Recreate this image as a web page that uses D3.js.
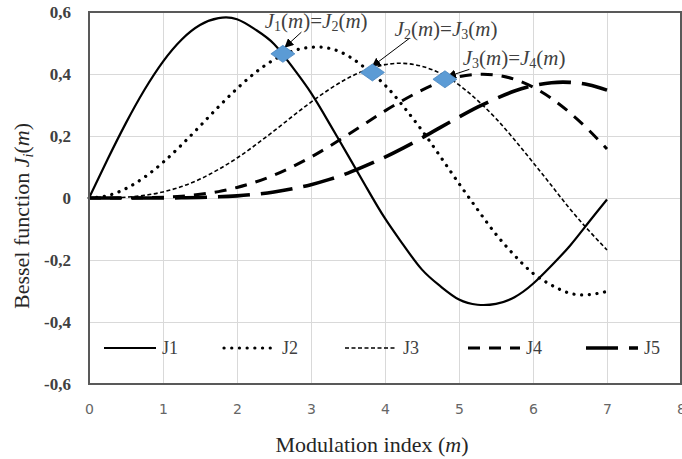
<!DOCTYPE html>
<html>
<head>
<meta charset="utf-8">
<script src="https://cdn.jsdelivr.net/npm/d3@7"></script>
<style>
  body { margin: 0; background: #fff; }
  svg { display: block; }
</style>
</head>
<body>
<svg width="682" height="459"></svg>
<script>
// modulation index samples and Bessel values
var mValues = [0, 0.25, 0.5, 0.75, 1, 1.25, 1.5, 1.75, 2, 2.25, 2.5, 2.75, 3, 3.25, 3.5,
  3.75, 4, 4.25, 4.5, 4.75, 5, 5.25, 5.5, 5.75, 6, 6.25, 6.5, 6.75, 7];
var j1 = [0, 0.124, 0.2423, 0.3492, 0.4401, 0.5106, 0.5579, 0.5802, 0.5767, 0.5432, 0.4971, 0.422, 0.3391, 0.240, 0.1374,
  0.034, -0.066, -0.152, -0.2311, -0.285, -0.3276, -0.3443, -0.3414, -0.320, -0.2767, -0.218, -0.1538, -0.079, -0.0047];
var j2 = [0, 0.0078, 0.0306, 0.0671, 0.1149, 0.1711, 0.2321, 0.294, 0.3528, 0.4047, 0.4461, 0.4739, 0.4861, 0.4826, 0.4586,
  0.416, 0.3641, 0.295, 0.2178, 0.133, 0.0466, -0.037, -0.1173, -0.185, -0.2429, -0.281, -0.3074, -0.312, -0.3014];
var j3 = [0, 0.0003, 0.0026, 0.0085, 0.0196, 0.0369, 0.061, 0.0922, 0.1289, 0.1711, 0.2166, 0.2634, 0.3091, 0.351, 0.3868,
  0.4135, 0.4302, 0.4344, 0.4247, 0.402, 0.3648, 0.315, 0.2561, 0.188, 0.1148, 0.040, -0.0353, -0.104, -0.1676];
var j4 = [0, 0, 0.0002, 0.0007, 0.0025, 0.0059, 0.0118, 0.0206, 0.034, 0.0515, 0.0738, 0.101, 0.132, 0.167, 0.2044,
  0.243, 0.2811, 0.316, 0.3479, 0.374, 0.3912, 0.399, 0.3967, 0.383, 0.3576, 0.321, 0.2748, 0.220, 0.1578];
var j5 = [0, 0, 0, 0, 0.0002, 0.0007, 0.0018, 0.0038, 0.007, 0.012, 0.0195, 0.030, 0.043, 0.060, 0.0804,
  0.105, 0.1321, 0.162, 0.194, 0.228, 0.2611, 0.293, 0.3209, 0.345, 0.3621, 0.372, 0.3731, 0.365, 0.3479];
var seriesNames = ["J1", "J2", "J3", "J4", "J5"];
var seriesValues = [j1, j2, j3, j4, j5];

var xTicks = [0, 1, 2, 3, 4, 5, 6, 7, 8];
var yTicks = [-0.6, -0.4, -0.2, 0, 0.2, 0.4, 0.6];

// crossing points (diamonds)
var crossM = [2.62, 3.83, 4.81];
var crossJ = [0.465, 0.405, 0.383];
// annotation labels: [first index, second index]
var crossLabels = [[1, 2], [2, 3], [3, 4]];

var svg = d3.select("svg");
var margin = {top: 12, right: 1, bottom: 75, left: 89};
var width = 682 - margin.left - margin.right,
    height = 459 - margin.top - margin.bottom;

var x = d3.scaleLinear().domain([0, 8]).range([margin.left, margin.left + width]);
var y = d3.scaleLinear().domain([-0.6, 0.6]).range([margin.top + height, margin.top]);

var serif = "'Liberation Serif', 'Times New Roman', serif";

// gridlines
svg.append("g")
  .attr("transform", "translate(0," + (margin.top + height) + ")")
  .call(d3.axisBottom(x).tickValues(xTicks).tickSize(-height).tickFormat(""))
  .call(function(g) { g.select(".domain").remove(); })
  .selectAll("line").attr("stroke", "#d9d9d9");
svg.append("g")
  .attr("transform", "translate(" + margin.left + ",0)")
  .call(d3.axisLeft(y).tickValues(yTicks).tickSize(-width).tickFormat(""))
  .call(function(g) { g.select(".domain").remove(); })
  .selectAll("line").attr("stroke", "#d9d9d9");

// tick labels
var fmt = function(d) { return d === 0 ? "0" : d3.format(".1f")(d).replace(".", ",").replace("\u2212", "-"); };
svg.append("g")
  .attr("transform", "translate(0," + (margin.top + height) + ")")
  .call(d3.axisBottom(x).tickValues(xTicks).tickSize(0).tickPadding(20))
  .call(function(g) { g.select(".domain").remove(); })
  .selectAll("text")
  .attr("font-family", "'DejaVu Sans', Verdana, sans-serif")
  .attr("font-size", 14)
  .attr("fill", "#666");
svg.append("g")
  .attr("transform", "translate(" + margin.left + ",0)")
  .call(d3.axisLeft(y).tickValues(yTicks).tickSize(0).tickPadding(18).tickFormat(fmt))
  .call(function(g) { g.select(".domain").remove(); })
  .selectAll("text")
  .attr("font-family", serif)
  .attr("font-size", 17)
  .attr("font-weight", "bold")
  .attr("fill", "#404040");

// line styles per series
var styles = [
  {w: 2.2, dash: null, cap: "butt"},
  {w: 3.2, dash: "0.1,7.6", cap: "round"},
  {w: 1.6, dash: "4,2.5", cap: "butt"},
  {w: 3, dash: "12,9", cap: "butt"},
  {w: 3.6, dash: "32,11", cap: "butt"}
];

var line = d3.line()
  .x(function(d, i) { return x(mValues[i]); })
  .y(function(d) { return y(d); })
  .curve(d3.curveNatural);

svg.append("g").selectAll("path")
  .data(seriesValues)
  .enter().append("path")
  .attr("d", line)
  .attr("fill", "none")
  .attr("stroke", "#000")
  .attr("stroke-width", function(d, i) { return styles[i].w; })
  .attr("stroke-dasharray", function(d, i) { return styles[i].dash; })
  .attr("stroke-linecap", function(d, i) { return styles[i].cap; });

// frame
svg.append("rect")
  .attr("x", margin.left).attr("y", margin.top)
  .attr("width", width).attr("height", height)
  .attr("fill", "none")
  .attr("stroke", "#595959")
  .attr("stroke-width", 2);

// legend
var legendX = [104, 224, 345, 468, 586];
var legend = svg.append("g").selectAll("g")
  .data(seriesNames)
  .enter().append("g")
  .attr("transform", function(d, i) { return "translate(" + legendX[i] + ",348)"; });
legend.append("line")
  .attr("x1", 0).attr("x2", 52)
  .attr("stroke", "#000")
  .attr("stroke-width", function(d, i) { return styles[i].w; })
  .attr("stroke-dasharray", function(d, i) { return styles[i].dash; })
  .attr("stroke-linecap", function(d, i) { return styles[i].cap; });
legend.append("text")
  .attr("x", 58).attr("y", 6)
  .attr("font-family", serif)
  .attr("font-size", 18)
  .attr("fill", "#404040")
  .text(function(d) { return d; });

// arrows
svg.append("defs").append("marker")
  .attr("id", "arrow")
  .attr("viewBox", "0 0 10 10")
  .attr("refX", 9).attr("refY", 5)
  .attr("markerWidth", 9).attr("markerHeight", 9)
  .attr("markerUnits", "userSpaceOnUse")
  .attr("orient", "auto")
  .append("path").attr("d", "M0,0L10,5L0,10Z").attr("fill", "#000");

var arrowFrom = [[2.87, 0.535], [4.33, 0.515], [5.14, 0.415]];
var arrowTo = [[2.65, 0.487], [3.83, 0.425], [4.85, 0.392]];
svg.append("g").selectAll("line")
  .data(arrowFrom)
  .enter().append("line")
  .attr("x1", function(d) { return x(d[0]); })
  .attr("y1", function(d) { return y(d[1]); })
  .attr("x2", function(d, i) { return x(arrowTo[i][0]); })
  .attr("y2", function(d, i) { return y(arrowTo[i][1]); })
  .attr("stroke", "#000")
  .attr("stroke-width", 1)
  .attr("marker-end", "url(#arrow)");

// diamonds
svg.append("g").selectAll("path")
  .data(crossM)
  .enter().append("path")
  .attr("transform", function(d, i) { return "translate(" + x(d) + "," + y(crossJ[i]) + ")"; })
  .attr("d", "M-12,0L0,-8.5L12,0L0,8.5Z")
  .attr("fill", "#5b9bd5")
  .attr("stroke", "#4a86c0")
  .attr("stroke-width", 0.8);

// annotation labels
var labelPos = [[2.375, 0.548], [4.13, 0.523], [5.05, 0.429]];
var labels = svg.append("g").selectAll("text")
  .data(crossLabels)
  .enter().append("text")
  .attr("x", function(d, i) { return x(labelPos[i][0]); })
  .attr("y", function(d, i) { return y(labelPos[i][1]); })
  .attr("font-family", serif)
  .attr("font-size", 21)
  .attr("fill", "#404040");
labels.each(function(d) {
  var t = d3.select(this);
  [d[0], d[1]].forEach(function(k, n) {
    if (n === 1) t.append("tspan").text("=");
    t.append("tspan").attr("font-style", "italic").text("J");
    t.append("tspan").attr("font-size", 14).attr("dy", 3).text(k);
    t.append("tspan").attr("dy", -3).text("(");
    t.append("tspan").attr("font-style", "italic").text("m");
    t.append("tspan").text(")");
  });
});

// axis titles
var xt = svg.append("text")
  .attr("x", 372).attr("y", 452)
  .attr("text-anchor", "middle")
  .attr("font-family", serif)
  .attr("font-size", 22)
  .attr("fill", "#262626");
xt.append("tspan").text("Modulation index (");
xt.append("tspan").attr("font-style", "italic").text("m");
xt.append("tspan").text(")");

var yt = svg.append("text")
  .attr("transform", "translate(29,216) rotate(-90)")
  .attr("text-anchor", "middle")
  .attr("font-family", serif)
  .attr("font-size", 22)
  .attr("fill", "#262626");
yt.append("tspan").text("Bessel function ");
yt.append("tspan").attr("font-style", "italic").text("J");
yt.append("tspan").attr("font-size", 14).attr("dy", 4).attr("font-style", "italic").text("i");
yt.append("tspan").attr("dy", -4).text("(");
yt.append("tspan").attr("font-style", "italic").text("m");
yt.append("tspan").text(")");
</script>
</body>
</html>
